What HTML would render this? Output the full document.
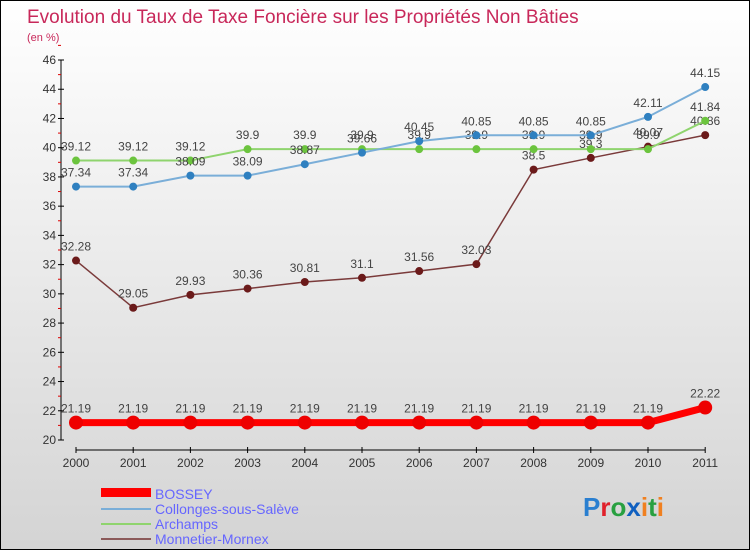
<!DOCTYPE html>
<html><head><meta charset="utf-8"><style>
body{margin:0;width:750px;height:550px;overflow:hidden;font-family:"Liberation Sans",sans-serif}
#wrap{position:relative;width:748px;height:548px;border:1px solid #000;background:linear-gradient(#fff,#d4d4d4)}
</style></head><body>
<div id="wrap">
<svg id="chart" width="748" height="548" style="position:absolute;left:0;top:0">
<text x="26" y="22" font-size="19" fill="#c8285a">Evolution du Taux de Taxe Foncière sur les Propriétés Non Bâties</text>
<text x="26" y="40" font-size="11" fill="#c8285a">(en %)</text>
<g id="axes"></g><g id="series"></g>
<g>
<rect x="100" y="487" width="50" height="9" fill="#f00"/>
<text x="154" y="498" font-size="14" fill="#6666ff">BOSSEY</text>
<line x1="100" y1="508" x2="150" y2="508" stroke="#7aaed8" stroke-width="2"/>
<text x="154" y="513" font-size="14" fill="#6666ff">Collonges-sous-Salève</text>
<line x1="100" y1="523" x2="150" y2="523" stroke="#8fd46e" stroke-width="2"/>
<text x="154" y="528" font-size="14" fill="#6666ff">Archamps</text>
<line x1="100" y1="538" x2="150" y2="538" stroke="#8b5a5a" stroke-width="2"/>
<text x="154" y="543" font-size="14" fill="#6666ff">Monnetier-Mornex</text>
</g>
<text x="582" y="515" font-size="26" font-weight="bold"><tspan fill="#2a7fd0">P</tspan><tspan fill="#e0202a">r</tspan><tspan fill="#28a040">o</tspan><tspan fill="#1060c0">x</tspan><tspan fill="#f08020">i</tspan><tspan fill="#28a040">t</tspan><tspan fill="#f08020">i</tspan></text>
</svg></div>
<script>
const years=[2000,2001,2002,2003,2004,2005,2006,2007,2008,2009,2010,2011];
const yTicks=[20,22,24,26,28,30,32,34,36,38,40,42,44,46];
const bossey=[21.19,21.19,21.19,21.19,21.19,21.19,21.19,21.19,21.19,21.19,21.19,22.22];
const collonges=[37.34,37.34,38.09,38.09,38.87,39.66,40.45,40.85,40.85,40.85,42.11,44.15];
const archamps=[39.12,39.12,39.12,39.9,39.9,39.9,39.9,39.9,39.9,39.9,39.9,41.84];
const monnetier=[32.28,29.05,29.93,30.36,30.81,31.1,31.56,32.03,38.5,39.3,40.07,40.86];
const NS="http://www.w3.org/2000/svg";
const X=i=>75+i*57.2, Y=v=>439-(v-20)*14.615;
function mk(t,a,p){const e=document.createElementNS(NS,t);for(const k in a)e.setAttribute(k,a[k]);p.appendChild(e);return e;}
const ax=document.getElementById('axes'),se=document.getElementById('series');
let l=mk('line',{x1:60,y1:Y(46),x2:60,y2:Y(20),stroke:'#000'},ax);

yTicks.forEach(v=>{mk('line',{x1:57,y1:Y(v),x2:63,y2:Y(v),stroke:'#000'},ax);
mk('line',{x1:57,y1:Y(v+1),x2:60,y2:Y(v+1),stroke:'#d00'},ax);
const t=mk('text',{x:55,y:Y(v)+4,'font-size':12,'text-anchor':'end',fill:'#333'},ax);t.textContent=v;
});
l=mk('line',{x1:X(0),y1:449,x2:X(11),y2:449,stroke:'#000'},ax);

years.forEach((y,i)=>{mk('line',{x1:X(i),y1:446,x2:X(i),y2:452,stroke:'#000'},ax);
const t=mk('text',{x:X(i),y:466,'font-size':12,'text-anchor':'middle',fill:'#333'},ax);t.textContent=y;
});
function draw(vals,color,dot,w,r,name){
const g=mk('g',{},se);
mk('polyline',{points:vals.map((v,i)=>X(i)+','+Y(v)).join(' '),fill:'none',stroke:color,'stroke-width':w},g);
vals.forEach((v,i)=>{const c=mk('circle',{cx:X(i),cy:Y(v),r:r,fill:dot},g);

const t=mk('text',{x:X(i),y:Y(v)-10,'font-size':12,'text-anchor':'middle',fill:'#444'},g);t.textContent=v;
});}
draw(monnetier,'#7a3a3a','#6b1a1a',1.5,4,'monnetier');
draw(archamps,'#8fd46e','#6cc43e',2,4,'archamps');
draw(collonges,'#7aaed8','#2f80c0',2,4,'collonges');
draw(bossey,'#f00','#e00',7,7,'bossey');
</script></body></html>
